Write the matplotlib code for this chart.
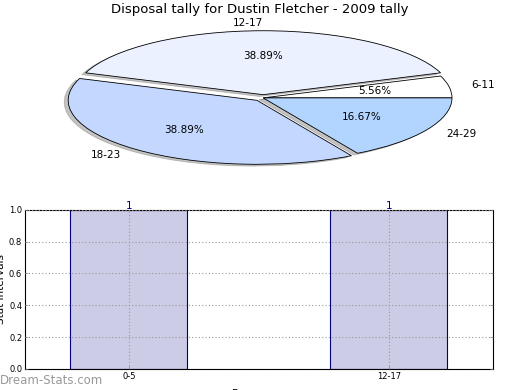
import matplotlib
matplotlib.use('Agg')
import matplotlib.pyplot as plt

# pie data
pie_labels = ['6-11', '12-17', '18-23', '24-29']
pie_counts = [1, 7, 7, 3]
pie_colors = ['#FFFFFF', '#EBF1FF', '#C4D7FF', '#B2D5FF']
pie_explode = [0, 0.05, 0.05, 0]

# bar data
bar_labels = ['0-5', '12-17']
bar_values = [1, 1]


def main():
    fig = plt.figure(figsize=(5.2, 3.9), dpi=100)

    ax1 = fig.add_axes([0.052, 0.544, 0.908, 0.41])
    wedges, texts, autotexts = ax1.pie(
        pie_counts, labels=pie_labels, colors=pie_colors, explode=pie_explode,
        autopct='%.2f%%', shadow={'ox': -0.015, 'oy': -0.02, 'color': '#888888'},
        startangle=0, labeldistance=1.12,
        wedgeprops={'edgecolor': 'black', 'linewidth': 0.6},
        textprops={'fontsize': 7.5})
    ax1.set_aspect('auto')
    ax1.set_xlim(-1.25, 1.25)
    ax1.set_ylim(-1.25, 1.25)
    fig.text(0.5, 1 - 10 / 390, 'Disposal tally for Dustin Fletcher - 2009 tally',
             fontsize=9.5, ha='center', va='center')

    ax2 = fig.add_axes([0.048, 0.054, 0.9, 0.408])
    xs = range(len(bar_labels))
    ax2.bar(xs, bar_values, width=0.45, color='#CCCCE6', edgecolor='navy', linewidth=0.8)
    for x, v in zip(xs, bar_values):
        ax2.text(x, v - 0.01, str(v), ha='center', va='bottom', color='navy', fontsize=7.5)
    ax2.set_xlim(-0.4, 1.4)
    ax2.set_ylim(0, 1.0)
    ax2.set_xticks(list(xs))
    ax2.set_xticklabels(bar_labels, fontsize=6)
    ax2.set_yticks([0.0, 0.2, 0.4, 0.6, 0.8, 1.0])
    ax2.set_yticklabels(['0.0', '0.2', '0.4', '0.6', '0.8', '1.0'], fontsize=6)
    ax2.tick_params(length=2, width=0.5, direction='in', color='gray', pad=2, right=True, top=False)
    ax2.grid(True, linestyle=(0, (1, 2)), color='#999999', linewidth=0.8)
    ax2.set_axisbelow(False)
    ax2.set_ylabel('Stat Intervals', fontsize=7.5, labelpad=2)
    ax2.set_xlabel('Frequency', fontsize=7.5, labelpad=6)

    fig.text(0.0, 1 - 380 / 390, 'Dream-Stats.com', fontsize=8.5, color='#999999',
             ha='left', va='center')

    fig.savefig('out.png', dpi=100)


if __name__ == '__main__':
    main()
